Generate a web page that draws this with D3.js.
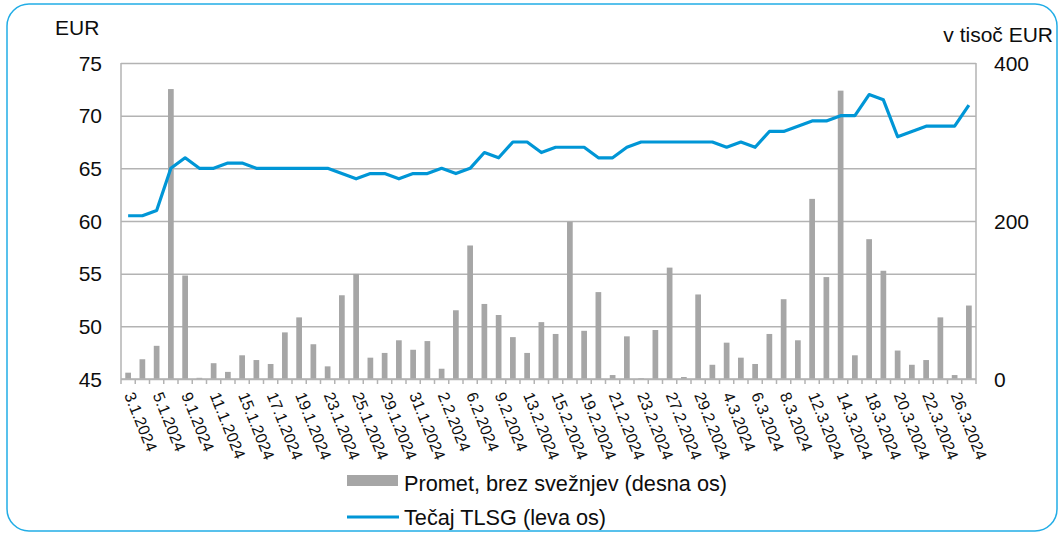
<!DOCTYPE html>
<meta charset="utf-8">
<style>
body {
  margin: 0;
  background-color: #ffffff;
  font-family: 'Liberation Sans', Arial, sans-serif;
}
text {
  font-family: 'Liberation Sans', Arial, sans-serif;
  fill: #0d0d0d;
}
.bar {
  fill: #A6A6A6;
}
.grid line {
  stroke: #B3B3B3;
  stroke-width: 1.5px;
}
.grid path {
  display: none;
}
.x path,
.x line {
  stroke: #B3B3B3;
  stroke-width: 1.5px;
}
.price {
  fill: none;
  stroke: #0096D6;
  stroke-width: 3.2px;
  stroke-linejoin: round;
}
</style>
<svg width="1059" height="533"></svg>
<script src="https://d3js.org/d3.v7.min.js"></script>
<script>
// trading days, 3.1.2024 - 27.3.2024
var dates = ["3.1.2024","4.1.2024","5.1.2024","8.1.2024","9.1.2024","10.1.2024","11.1.2024","12.1.2024",
  "15.1.2024","16.1.2024","17.1.2024","18.1.2024","19.1.2024","22.1.2024","23.1.2024","24.1.2024",
  "25.1.2024","26.1.2024","29.1.2024","30.1.2024","31.1.2024","1.2.2024","2.2.2024","5.2.2024",
  "6.2.2024","7.2.2024","9.2.2024","12.2.2024","13.2.2024","14.2.2024","15.2.2024","16.2.2024",
  "19.2.2024","20.2.2024","21.2.2024","22.2.2024","23.2.2024","26.2.2024","27.2.2024","28.2.2024",
  "29.2.2024","1.3.2024","4.3.2024","5.3.2024","6.3.2024","7.3.2024","8.3.2024","11.3.2024",
  "12.3.2024","13.3.2024","14.3.2024","15.3.2024","18.3.2024","19.3.2024","20.3.2024","21.3.2024",
  "22.3.2024","25.3.2024","26.3.2024","27.3.2024"];

// Tečaj TLSG, EUR (left axis)
var price = [60.5,60.5,61,65,66,65,65,65.5,65.5,65,
  65,65,65,65,65,64.5,64,64.5,64.5,64,
  64.5,64.5,65,64.5,65,66.5,66,67.5,67.5,66.5,
  67,67,67,66,66,67,67.5,67.5,67.5,67.5,
  67.5,67.5,67,67.5,67,68.5,68.5,69,69.5,69.5,
  70,70,72,71.5,68,68.5,69,69,69,71];

// Promet, brez svežnjev, v tisoč EUR (right axis)
var turnover = [8,25,42,367,131,1.5,20,9,30,24,
  19,59,78,44,16,106,133,27,33,49,
  37,48,13,87,169,95,81,53,33,72,
  57,199,61,110,5,54,1,62,141,2.5,
  107,18,46,27,19,57,101,49,228,129,
  365,30,177,137,36,18,24,78,5,93];

var leftTicks = [45,50,55,60,65,70,75];
var rightTicks = [0,200,400];

var svg = d3.select("svg"),
    margin = {top: 63, right: 83, bottom: 154, left: 121},
    width = +svg.attr("width") - margin.left - margin.right,
    height = +svg.attr("height") - margin.top - margin.bottom;

svg.append("rect")
    .attr("x", 7).attr("y", 4)
    .attr("width", 1050).attr("height", 527)
    .attr("rx", 22)
    .attr("fill", "none")
    .attr("stroke", "#22ADE6")
    .attr("stroke-width", 1.5);

var x = d3.scaleBand().domain(d3.range(dates.length)).range([0, width]).paddingInner(0.6).paddingOuter(0.3);
var xc = d3.scaleBand().domain(d3.range(dates.length)).range([0, width]);
var y = d3.scaleLinear().domain([45, 75]).range([height, 0]);
var y2 = d3.scaleLinear().domain([0, 400]).range([height, 0]);

var g = svg.append("g")
    .attr("transform", "translate(" + margin.left + "," + margin.top + ")");

// horizontal gridlines
g.append("g")
    .attr("class", "grid")
    .call(d3.axisLeft(y).tickValues(leftTicks).tickSize(-width).tickFormat(""));

// plot frame sides
g.append("line").attr("x1", 0).attr("x2", 0).attr("y1", 0).attr("y2", height)
    .attr("stroke", "#B3B3B3").attr("stroke-width", 1.5);
g.append("line").attr("x1", width).attr("x2", width).attr("y1", 0).attr("y2", height)
    .attr("stroke", "#B3B3B3").attr("stroke-width", 1.5);

// left axis labels
g.selectAll(".ylab")
    .data(leftTicks)
  .enter().append("text")
    .attr("class", "ylab")
    .attr("x", -19)
    .attr("y", function(d) { return y(d); })
    .attr("dy", "0.36em")
    .attr("text-anchor", "end")
    .style("font-size", "21px")
    .text(function(d) { return d; });

// right axis labels
g.selectAll(".y2lab")
    .data(rightTicks)
  .enter().append("text")
    .attr("class", "y2lab")
    .attr("x", width + 18)
    .attr("y", function(d) { return y2(d); })
    .attr("dy", "0.36em")
    .attr("text-anchor", "start")
    .style("font-size", "21px")
    .text(function(d) { return d; });

svg.append("text").attr("x", 55).attr("y", 35).style("font-size", "21px").text("EUR");
svg.append("text").attr("x", 1053).attr("y", 42).attr("text-anchor", "end").style("font-size", "21px").text("v tisoč EUR");

// bars
g.selectAll(".bar")
    .data(turnover)
  .enter().append("rect")
    .attr("class", "bar")
    .attr("x", function(d, i) { return x(i); })
    .attr("width", x.bandwidth())
    .attr("y", function(d) { return y2(d); })
    .attr("height", function(d) { return height - y2(d); });

// x axis: ticks between categories
var xAxis = g.append("g")
    .attr("class", "x axis")
    .attr("transform", "translate(0," + height + ")");
xAxis.append("line").attr("x1", 0).attr("x2", width);
xAxis.selectAll(".tick")
    .data(d3.range(dates.length + 1))
  .enter().append("line")
    .attr("x1", function(d) { return d * xc.step(); })
    .attr("x2", function(d) { return d * xc.step(); })
    .attr("y1", 0).attr("y2", 5);

xAxis.selectAll(".xlab")
    .data(dates.filter(function(d, i) { return i % 2 === 0; }))
  .enter().append("text")
    .attr("class", "xlab")
    .attr("transform", function(d, i) {
      var cx = xc(i * 2) + xc.bandwidth() / 2 + 1;
      return "translate(" + cx + ",14) rotate(68)";
    })
    .attr("dy", "0.35em")
    .attr("text-anchor", "start")
    .style("font-size", "16px")
    .text(function(d) { return d; });

// price line
var line = d3.line()
    .x(function(d, i) { return xc(i) + xc.bandwidth() / 2; })
    .y(function(d) { return y(d); });

g.append("path")
    .datum(price)
    .attr("class", "price")
    .attr("d", line);

// legend
var legend = svg.append("g");
legend.append("rect").attr("x", 347).attr("y", 475).attr("width", 51).attr("height", 11).attr("fill", "#A6A6A6");
legend.append("text").attr("x", 404).attr("y", 483).attr("dy", "0.35em").style("font-size", "21.7px")
    .text("Promet, brez svežnjev (desna os)");
legend.append("line").attr("x1", 347).attr("x2", 399).attr("y1", 517).attr("y2", 517)
    .attr("stroke", "#0096D6").attr("stroke-width", 3);
legend.append("text").attr("x", 404).attr("y", 517).attr("dy", "0.35em").style("font-size", "21.7px")
    .text("Tečaj TLSG (leva os)");
</script>
